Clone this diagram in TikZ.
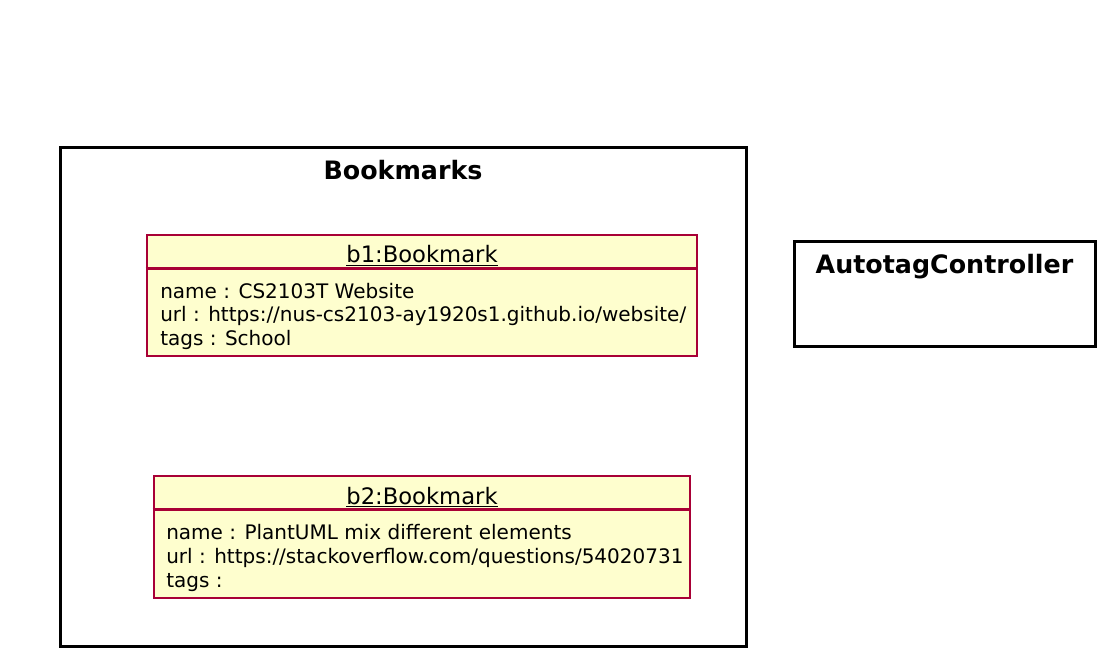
\documentclass[tikz,border=0pt]{standalone}
\usepackage{fontspec}
\newfontfamily\umlfont{DejaVu Sans}
\definecolor{objfill}{HTML}{FEFECE}
\definecolor{objline}{HTML}{A80036}
\begin{document}
\begin{tikzpicture}[x=0.75pt,y=-0.75pt,
        frame/.style={draw, line width=2.25pt, inner sep=0pt},
        objbox/.style={draw=objline, fill=objfill, line width=2.1pt, inner sep=0pt},
        objname/.style={font=\umlfont\fontsize{17}{20}\selectfont, inner sep=0pt, anchor=base},
        attr/.style={font=\umlfont\fontsize{15}{18}\selectfont, inner sep=0pt, anchor=base west},
        title/.style={font=\umlfont\bfseries\fontsize{19}{22}\selectfont, inner sep=0pt, anchor=base}]
        \useasboundingbox (0,0) rectangle (1114,666);

        % package and controller frames
        \node[frame, minimum width=514.5pt, minimum height=373.5pt] (bookmarks) at (403,397) {};
        \node[title] (bookmarkstitle) at (403,180) {Bookmarks};
        \node[frame, minimum width=225.75pt, minimum height=78.75pt] (autotag) at (944.5,294.5) {};
        \node[title] (autotagtitle) at (944.5,274) {AutotagController};

        % b1
        \node[objbox, minimum width=412.5pt, minimum height=90.75pt] (b1) at (422,295.5) {};
        \draw[objline, line width=2pt] ([yshift=-26.25pt]b1.north west) -- ([yshift=-26.25pt]b1.north east);
        \node[objname] (b1title) at (422,263) {\underline{b1:Bookmark}};
        \node[attr] (b1name) at (160,299) {name : CS2103T Website};
        \node[attr] (b1url) at (160,322) {url : https://nus-cs2103-ay1920s1.github.io/website/};
        \node[attr] (b1tags) at (160,346) {tags : School};

        % b2
        \node[objbox, minimum width=402pt, minimum height=91.5pt] (b2) at (422,537) {};
        \draw[objline, line width=2pt] ([yshift=-26.25pt]b2.north west) -- ([yshift=-26.25pt]b2.north east);
        \node[objname] (b2title) at (422,504) {\underline{b2:Bookmark}};
        \node[attr] (b2name) at (166,539) {name : PlantUML mix different elements};
        \node[attr] (b2url) at (166,563) {url : https://stackoverflow.com/questions/54020731};
        \node[attr] (b2tags) at (166,587) {tags :};

    \end{tikzpicture}
\end{document}
